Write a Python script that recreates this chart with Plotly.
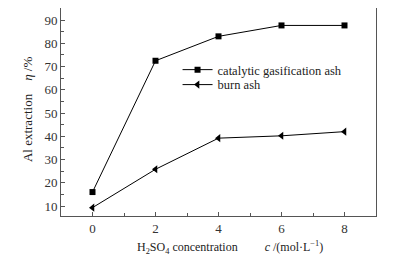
import plotly.graph_objects as go

conc = [0, 2, 4, 6, 8]
catalytic_ash = [16.0, 72.5, 83.0, 87.7, 87.7]
burn_ash = [9.3, 25.8, 39.2, 40.2, 42.0]
series_names = ["catalytic gasification ash", "burn ash"]
x_ticks = [0, 2, 4, 6, 8]
y_ticks = [10, 20, 30, 40, 50, 60, 70, 80, 90]
x_title = "H<sub>2</sub>SO<sub>4</sub> concentration         <i>c</i> /(mol·L<sup>−1</sup>)"
y_title = "Al extraction    <i>η</i> /%"

FONT = "Liberation Serif"

fig = go.Figure()
fig.add_trace(go.Scatter(
    x=conc, y=catalytic_ash, name=series_names[0], mode="lines+markers",
    line=dict(color="black", width=1),
    marker=dict(symbol="square", size=6, color="black"),
    legend="legend",
))
fig.add_trace(go.Scatter(
    x=conc, y=burn_ash, name=series_names[1], mode="lines+markers",
    line=dict(color="black", width=1),
    marker=dict(symbol="triangle-left", size=7, color="black"),
    legend="legend2",
))

axis_common = dict(
    showline=True, linecolor="#555", linewidth=1, mirror=True,
    ticks="inside", ticklen=4, tickcolor="#555", tickwidth=1,
    showgrid=False, zeroline=False, automargin=False,
    tickfont=dict(family=FONT, size=13, color="#333"),
)

fig.update_xaxes(
    range=[-1, 9], tickvals=x_ticks,
    minor=dict(ticks="inside", ticklen=3, tickcolor="#555", dtick=1, tick0=0, showgrid=False),
    **axis_common,
)
fig.update_yaxes(
    range=[5.7, 95.2], tickvals=y_ticks,
    minor=dict(ticks="inside", ticklen=3, tickcolor="#555", dtick=5, tick0=0, showgrid=False),
    **axis_common,
)

fig.add_annotation(
    text=x_title, xref="paper", yref="paper", x=0.537, y=0,
    xanchor="center", yanchor="top", yshift=-21, showarrow=False,
    font=dict(family=FONT, size=12, color="#222"),
)
fig.add_annotation(
    text=y_title, xref="paper", yref="paper", x=0, y=0.514,
    xanchor="center", yanchor="middle", xshift=-34, textangle=-90, showarrow=False,
    font=dict(family=FONT, size=13, color="#222"),
)

legend_style = dict(
    xanchor="left", yanchor="top",
    bgcolor="rgba(0,0,0,0)", borderwidth=0,
    font=dict(family=FONT, size=12.5, color="#222"),
    itemwidth=30,
)

# page body has an 8px margin, so the figure is sized to fit inside the window
fig.update_layout(
    width=396, height=251,
    margin=dict(l=53, r=28, t=0, b=43),
    paper_bgcolor="white", plot_bgcolor="white",
    showlegend=True,
    legend=dict(x=0.37, y=0.774, **legend_style),
    legend2=dict(x=0.37, y=0.702, **legend_style),
)

fig.write_html("out.html")
